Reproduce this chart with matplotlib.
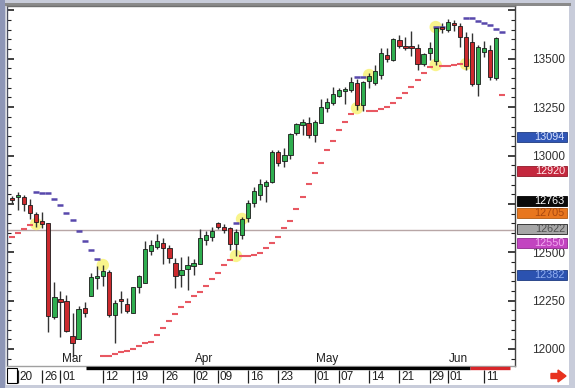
import numpy as np
import matplotlib
matplotlib.use("Agg")
import matplotlib.pyplot as plt
from matplotlib.patches import Rectangle, FancyArrow
from matplotlib.transforms import blended_transform_factory

plt.rcParams['font.family'] = ['Liberation Sans', 'DejaVu Sans']

# ---- data ----
trade_days = ['02-16', '02-20', '02-21', '02-22', '02-23', '02-26', '02-27', '02-28',
              '03-01', '03-02', '03-05', '03-06', '03-07', '03-08', '03-09', '03-12', '03-13',
              '03-14', '03-15', '03-16', '03-19', '03-20', '03-21', '03-22', '03-23', '03-26',
              '03-27', '03-28', '03-29', '03-30',
              '04-02', '04-03', '04-04', '04-05', '04-09', '04-10', '04-11', '04-12', '04-13',
              '04-16', '04-17', '04-18', '04-19', '04-20', '04-23', '04-24', '04-25', '04-26',
              '04-27', '04-30',
              '05-01', '05-02', '05-03', '05-04', '05-07', '05-08', '05-09', '05-10', '05-11',
              '05-14', '05-15', '05-16', '05-17', '05-18', '05-21', '05-22', '05-23', '05-24',
              '05-25', '05-29', '05-30', '05-31',
              '06-01', '06-04', '06-05', '06-06', '06-07', '06-08', '06-11', '06-12', '06-13']

opens = [12780, 12786, 12786, 12744, 12698, 12661, 12651, 12165, 12258, 12248,
         12067, 12052, 12212, 12274, 12367, 12377, 12398, 12176, 12258, 12233,
         12186, 12320, 12341, 12506, 12527, 12548, 12522, 12444, 12382, 12413,
         12429, 12439, 12563, 12579, 12651, 12630, 12625, 12543, 12589, 12677,
         12754, 12796, 12842, 12863, 13018, 12972, 13003, 13116, 13158, 13168,
         13106, 13168, 13245, 13271, 13307, 13333, 13338, 13375, 13261, 13385,
         13375, 13416, 13519, 13494, 13597, 13561, 13561, 13556, 13473, 13530,
         13488, 13659, 13649, 13680, 13669, 13612, 13587, 13370, 13535, 13545,
         13400]
highs = [12791, 12811, 12796, 12775, 12708, 12708, 12651, 12346, 12300, 12279,
         12186, 12222, 12243, 12393, 12429, 12434, 12408, 12253, 12300, 12264,
         12320, 12382, 12558, 12563, 12594, 12574, 12537, 12470, 12475, 12481,
         12465, 12620, 12610, 12630, 12656, 12646, 12630, 12620, 12682, 12770,
         12837, 12879, 12873, 13028, 13028, 13039, 13116, 13168, 13189, 13199,
         13184, 13292, 13297, 13354, 13349, 13354, 13406, 13395, 13385, 13426,
         13468, 13556, 13556, 13607, 13623, 13612, 13643, 13576, 13530, 13587,
         13664, 13685, 13705, 13700, 13685, 13638, 13633, 13571, 13592, 13571,
         13612]
lows = [12754, 12718, 12713, 12672, 12630, 12625, 12088, 12155, 12062, 12088,
        11959, 12052, 12165, 12274, 12310, 12326, 12165, 12031, 12186, 12186,
        12186, 12289, 12341, 12486, 12517, 12439, 12444, 12315, 12320, 12305,
        12382, 12439, 12537, 12558, 12620, 12599, 12512, 12481, 12568, 12656,
        12734, 12770, 12760, 12858, 12946, 12941, 12982, 13106, 13106, 13090,
        13070, 13168, 13225, 13261, 13302, 13266, 13328, 13235, 13230, 13349,
        13364, 13395, 13483, 13488, 13556, 13545, 13514, 13442, 13463, 13494,
        13468, 13633, 13638, 13643, 13561, 13442, 13359, 13307, 13509, 13390,
        13390]
closes = [12770, 12796, 12749, 12703, 12656, 12646, 12171, 12269, 12243, 12093,
          12031, 12207, 12186, 12372, 12377, 12403, 12176, 12238, 12248, 12196,
          12320, 12377, 12517, 12537, 12558, 12522, 12470, 12377, 12408, 12434,
          12444, 12574, 12589, 12610, 12630, 12615, 12543, 12605, 12672, 12754,
          12817, 12853, 12863, 13018, 12961, 13003, 13111, 13163, 13173, 13106,
          13173, 13251, 13276, 13318, 13338, 13344, 13380, 13261, 13380, 13411,
          13437, 13530, 13499, 13602, 13566, 13556, 13556, 13473, 13525, 13556,
          13659, 13654, 13690, 13674, 13612, 13463, 13370, 13561, 13556, 13406,
          13607]

n = np.nan
# parabolic SAR dots, one slot per day plus the next-day projection
sar_up = [12580, 12601, 12620, 12641, n, n, n, n, n, n,
          n, n, n, n, n, 11964, 11964, 11974, 11983, 11991,
          12000, 12015, 12031, 12038, 12072, 12107, 12146, 12181, 12216, 12244,
          12274, 12296, 12326, 12360, 12391, 12434, 12460, n, 12481, 12481,
          12486, 12498, 12520, 12546, 12580, 12624, 12663, 12722, 12787, 12851,
          12908, 12963, 13028, 13076, 13132, 13175, 13213, n, n, 13230,
          13230, 13239, 13249, 13271, 13297, 13323, 13354, 13390, 13426, 13457,
          n, 13464, 13465, 13468, 13471, n, n, n, n, n,
          n, 13313]
sar_dn = [n, n, n, n, 12810, 12808, 12805, 12775, 12744, 12704,
          12667, 12611, 12558, 12512, 12465, n, n, n, n, n,
          n, n, n, n, n, n, n, n, n, n,
          n, n, n, n, n, n, n, 12653, n, n,
          n, n, n, n, n, n, n, n, n, n,
          n, n, n, n, n, n, n, 13404, 13404, n,
          n, n, n, n, n, n, n, n, n, n,
          13667, 13667, n, n, n, 13709, 13709, 13698, 13685, 13673,
          13654, 13640]

# SAR reversal highlights
hl_idx = [4, 15, 37, 38, 57, 59, 70, 70, 75]
hl_val = [12646, 12434, 12481, 12672, 13245, 13416, 13664, 13468, 13473]

hline_level = 12615

tick_days = ['02-20', '02-26', '03-01', '03-12', '03-19', '03-26', '04-02', '04-09',
             '04-16', '04-23', '05-01', '05-07', '05-14', '05-21', '05-29', '06-01', '06-11']
tick_labels = ['20', '26', '01', '12', '19', '26', '02', '09', '16', '23',
               '01', '07', '14', '21', '29', '01', '11']
month_days = ['03-01', '04-02', '05-01', '06-01']
month_labels = ['Mar', 'Apr', 'May', 'Jun']

# price scale labels (12750 sits under the 12763 box, so it is left blank)
price_ticks = [12000, 12250, 12500, 12750, 13000, 13250, 13500, 13750]
price_labels = ['12000', '12250', '12500', '', '13000', '13250', '13500', '']

level_vals = [13094, 12920, 12763, 12705, 12622, 12550, 12382]
level_face = ['#2f55b5', '#c4283e', '#0a0a0a', '#e8761e', '#a6a6a6', '#c244c0', '#2b52b0']
level_text = ['#d8e2ff', '#ffe8ea', '#ffffff', '#a84810', '#505050', '#f2a8f0', '#90aef0']
level_edge = ['#203c80', '#901828', '#000000', '#b05810', '#202020', '#902890', '#1c3a80']

# ---- figure ----
W, H = 575, 388
fig = plt.figure(figsize=(W / 100, H / 100), dpi=100)
fig.patch.set_facecolor('#c8ccda')


def fx(px):
    return px / W


def fy(py):
    return 1 - py / H


# frame behind everything
for (x0, y0, x1, y1, col) in [(6, 5, 569, 385, 'white'), (0, 0, 5, 388, '#8e96b6'),
                              (5, 3, 571, 6, '#8a8a8a')]:
    fig.patches.append(Rectangle((fx(x0), fy(y1)), fx(x1) - fx(x0), fy(y0) - fy(y1),
                                 transform=fig.transFigure, facecolor=col,
                                 edgecolor='none', zorder=-10))

ax = fig.add_axes([fx(7), fy(366), fx(515) - fx(7), fy(6) - fy(366)])
ax.set_facecolor('white')

x = np.arange(len(closes))
o = np.array(opens, float)
c = np.array(closes, float)
hi = np.array(highs, float)
lo = np.array(lows, float)
up = c >= o

ax.vlines(x, lo, hi, color='#333333', lw=1.0, zorder=3)
body_lo = np.minimum(o, c)
body_h = np.maximum(np.abs(c - o), 9)
ax.bar(x[up], body_h[up], bottom=body_lo[up], width=0.7, color='#2fae4f',
       edgecolor='#1a1a1a', linewidth=0.6, zorder=4)
ax.bar(x[~up], body_h[~up], bottom=body_lo[~up], width=0.7, color='#cc2a2e',
       edgecolor='#1a1a1a', linewidth=0.6, zorder=4)

xs = np.arange(len(sar_up))
ax.scatter(hl_idx, hl_val, s=80, color='#f8f270', alpha=0.8, edgecolors='none', zorder=2)
ax.plot(xs, sar_up, ls='none', marker='_', ms=5, mew=1.5, color='#e85862', zorder=3)
ax.plot(xs, sar_dn, ls='none', marker='_', ms=5, mew=1.8, color='#5848ac', zorder=3)

ax.axhline(hline_level, color='#b8a6a6', lw=1.0, zorder=1)

ax.set_xlim(-0.83, 83.1)
ax.set_ylim(11912, 13773)
ax.set_xticks([])
ax.set_yticks(price_ticks)
ax.set_yticklabels(price_labels)
ax.set_yticks(np.arange(11950, 13751, 50), minor=True)
ax.tick_params(axis='y', which='both', direction='in', left=True, right=True,
               labelleft=False, labelright=True, color='#202020')
ax.tick_params(axis='y', which='major', length=5, width=1.2, pad=12,
               labelsize=8.5, labelcolor='#303030')
ax.tick_params(axis='y', which='minor', length=3, width=0.8)
for side, col in [('top', '#707070'), ('left', '#4a4e60'), ('right', '#404040'),
                  ('bottom', '#a0a0a0')]:
    ax.spines[side].set_color(col)
    ax.spines[side].set_linewidth(1.0)

# month names just above the bottom edge
bt = blended_transform_factory(ax.transData, ax.transAxes)
for d, lab in zip(month_days, month_labels):
    ax.text(trade_days.index(d) + 0.2, 0.004, lab, transform=bt, fontsize=8.5,
            color='#202020', ha='left', va='bottom', zorder=6)

# right-hand value boxes
rt = blended_transform_factory(ax.transAxes, ax.transData)
span = ax.get_ylim()[1] - ax.get_ylim()[0]
box_h = 10 * span / 360
for v, fc, tc, ec in zip(level_vals, level_face, level_text, level_edge):
    ax.add_patch(Rectangle((1.004, v - box_h / 2), 0.098, box_h, transform=rt,
                           facecolor=fc, edgecolor=ec, lw=0.6, clip_on=False, zorder=10))
    ax.text(1.098, v, str(v), transform=rt, ha='right', va='center', fontsize=7.8,
            color=tc, clip_on=False, zorder=11)

# date strip under the plot
ax2 = fig.add_axes([fx(7), fy(385), fx(515) - fx(7), fy(366) - fy(385)])
ax2.set_xlim(ax.get_xlim())
ax2.set_ylim(0, 1)
ax2.axis('off')
ax2.plot([0.155, 0.911], [0.88, 0.88], transform=ax2.transAxes, color='black',
         lw=2.4, solid_capstyle='butt', clip_on=False)
ax2.plot([0.911, 0.99], [0.88, 0.88], transform=ax2.transAxes, color='#d8262a',
         lw=2.4, solid_capstyle='butt', clip_on=False)
for d, lab in zip(tick_days, tick_labels):
    i = trade_days.index(d)
    ax2.vlines(i, 0.1, 0.78, color='#202020', lw=0.9)
    ax2.text(i + 0.3, 0.42, lab, fontsize=8.5, color='#202020', ha='left', va='center')

# small corner box and scroll arrow
fig.patches.append(Rectangle((fx(7), fy(383)), fx(10), fy(368) - fy(383),
                             transform=fig.transFigure, facecolor='white',
                             edgecolor='black', lw=0.8, zorder=5))
fig.patches.append(FancyArrow(fx(551), fy(376), fx(7), 0, width=5 / H,
                              head_width=12 / H, head_length=fx(8),
                              length_includes_head=False, transform=fig.transFigure,
                              color='#e8321e', zorder=5))

fig.savefig('out.png', dpi=100, facecolor=fig.get_facecolor())
